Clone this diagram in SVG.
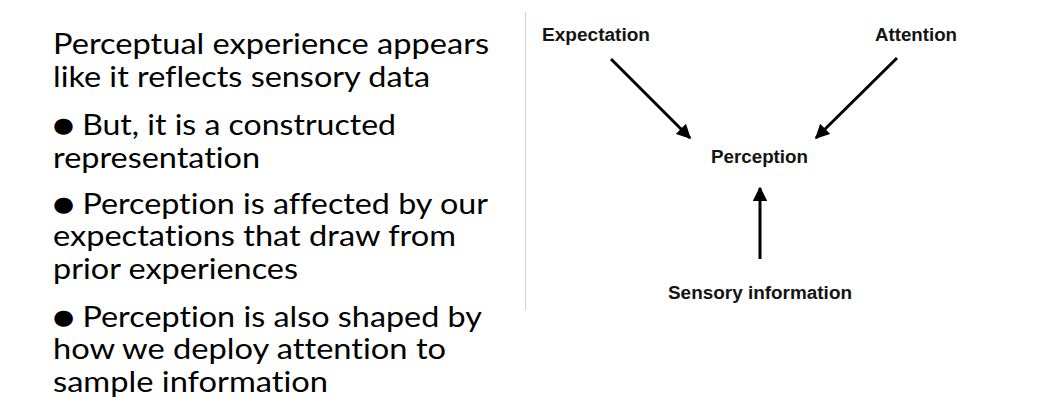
<svg xmlns="http://www.w3.org/2000/svg" width="1062" height="416" viewBox="0 0 1062 416">
<defs>
<style>
.body{font-family:Lato,"Open Sans","Liberation Sans",sans-serif;font-size:28px;fill:#000;font-variant-ligatures:none;font-feature-settings:"liga" 0}
.b{font-family:"DejaVu Sans",sans-serif;font-size:21px;baseline-shift:3px}
.lbl{font-family:"Liberation Sans",Arial,sans-serif;font-weight:bold;font-size:18px;fill:#141414}
.conn{stroke:#000;stroke-width:3;fill:none;marker-end:url(#ah)}
</style>
<marker id="ah" viewBox="0 0 10 10" refX="9" refY="5" markerWidth="4.8" markerHeight="4.8" markerUnits="strokeWidth" orient="auto">
<path d="M0,0 L10,5 L0,10 Z" fill="#000"/>
</marker>
</defs>
<rect width="1062" height="416" fill="#fff"/>
<g id="bullets">
<text class="body" x="53" y="54" textLength="436" lengthAdjust="spacingAndGlyphs">Perceptual experience appears</text>
<text class="body" x="53" y="87" textLength="377" lengthAdjust="spacingAndGlyphs">like it reflects sensory data</text>
<text class="body" x="53" y="135" textLength="343" lengthAdjust="spacingAndGlyphs"><tspan class="b">●</tspan> But, it is a constructed</text>
<text class="body" x="53" y="168" textLength="207" lengthAdjust="spacingAndGlyphs">representation</text>
<text class="body" x="53" y="214" textLength="435" lengthAdjust="spacingAndGlyphs"><tspan class="b">●</tspan> Perception is affected by our</text>
<text class="body" x="53" y="246" textLength="403" lengthAdjust="spacingAndGlyphs">expectations that draw from</text>
<text class="body" x="53" y="279" textLength="245" lengthAdjust="spacingAndGlyphs">prior experiences</text>
<text class="body" x="53" y="327" textLength="429" lengthAdjust="spacingAndGlyphs"><tspan class="b">●</tspan> Perception is also shaped by</text>
<text class="body" x="53" y="359" textLength="393" lengthAdjust="spacingAndGlyphs">how we deploy attention to</text>
<text class="body" x="53" y="392" textLength="275" lengthAdjust="spacingAndGlyphs">sample information</text>
</g>
<line x1="525.5" y1="12" x2="525.5" y2="310" stroke="#d4d4d4" stroke-width="1.2"/>
<g id="expectation"><text class="lbl" x="542" y="41" textLength="108" lengthAdjust="spacingAndGlyphs">Expectation</text></g>
<g id="attention"><text class="lbl" x="875" y="41" textLength="82" lengthAdjust="spacingAndGlyphs">Attention</text></g>
<g id="perception"><text class="lbl" x="711" y="163" textLength="97" lengthAdjust="spacingAndGlyphs">Perception</text></g>
<g id="sensory"><text class="lbl" x="668" y="298.5" textLength="184" lengthAdjust="spacingAndGlyphs">Sensory information</text></g>
<g id="connectors">
<line class="conn" x1="611" y1="59" x2="690" y2="138"/>
<line class="conn" x1="897" y1="58" x2="816" y2="138"/>
<line class="conn" x1="760" y1="259" x2="760" y2="188"/>
</g>
</svg>
